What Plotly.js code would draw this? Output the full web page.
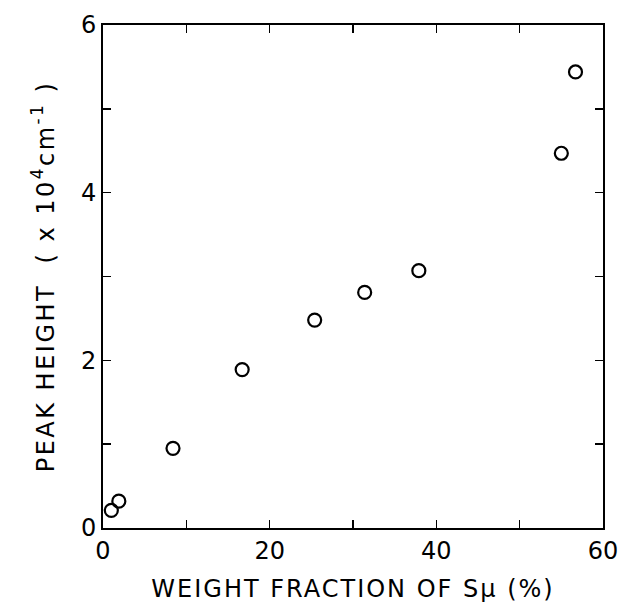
<!DOCTYPE html>
<html>
<head>
<meta charset="utf-8">
<script src="https://cdn.plot.ly/plotly-3.0.1.min.js"></script>
<style>html,body{margin:0;padding:0;background:#fff;}#chart{width:622px;height:604px;}</style>
</head>
<body>
<div id="chart"></div>
<script>
const weightFraction = [1.0, 1.9, 8.4, 16.7, 25.4, 31.4, 37.9, 55.0, 56.7];
const peakHeight = [0.21, 0.32, 0.95, 1.89, 2.48, 2.81, 3.07, 4.47, 5.44];
const xTickVals = [0, 10, 20, 30, 40, 50, 60];
const xTickText = ["0", "", "20", "", "40", "", "60"];
const yTickVals = [0, 1, 2, 3, 4, 5, 6];
const yTickText = ["0", "", "2", "", "4", "", "6"];

const trace = {
  x: weightFraction,
  y: peakHeight,
  type: 'scatter',
  mode: 'markers',
  marker: {symbol: 'circle-open', size: 13, color: '#000', line: {width: 2.2, color: '#000'}},
  cliponaxis: false,
  showlegend: false
};

const font = {family: 'DejaVu Sans, sans-serif', color: '#000'};
const layout = {
  width: 622, height: 604,
  margin: {l: 103, r: 19, t: 25, b: 76},
  paper_bgcolor: '#fff', plot_bgcolor: '#fff',
  font: font,
  xaxis: {
    range: [0, 60], tickvals: xTickVals, ticktext: xTickText,
    ticks: 'inside', ticklen: 8, tickwidth: 1.5, tickcolor: '#000',
    showline: true, linewidth: 2, linecolor: '#000', mirror: 'ticks',
    showgrid: false, zeroline: false,
    tickfont: {family: 'DejaVu Sans, sans-serif', size: 24, color: '#000'},
    title: {text: '<span style="letter-spacing:2px">WEIGHT FRACTION OF Sμ (%)</span>', standoff: 16,
            font: {family: 'DejaVu Sans, sans-serif', size: 24, color: '#000'}}
  },
  yaxis: {
    range: [0, 6], tickvals: yTickVals, ticktext: yTickText,
    ticks: 'inside', ticklen: 8, tickwidth: 1.5, tickcolor: '#000',
    showline: true, linewidth: 2, linecolor: '#000', mirror: 'ticks',
    showgrid: false, zeroline: false,
    tickfont: {family: 'DejaVu Sans, sans-serif', size: 24, color: '#000'},
    title: {text: '<span style="letter-spacing:2.5px">PEAK HEIGHT  ( x 10<sup>4</sup>cm<sup>-1</sup> )</span>', standoff: 20,
            font: {family: 'DejaVu Sans, sans-serif', size: 24, color: '#000'}}
  }
};

Plotly.newPlot('chart', [trace], layout, {displayModeBar: false, staticPlot: true});
</script>
</body>
</html>
